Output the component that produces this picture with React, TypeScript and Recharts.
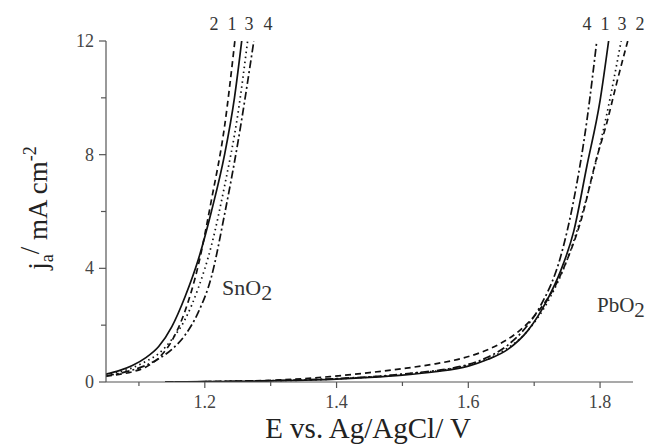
import { Line, LineChart, XAxis, YAxis } from "recharts";

// SnO2 anode, curves 1-4
const snE1 = [1.05, 1.07, 1.09, 1.11, 1.13, 1.15, 1.17, 1.19, 1.21, 1.23, 1.245, 1.256];
const snJ1 = [0.28, 0.4, 0.58, 0.85, 1.25, 1.95, 3.0, 4.3, 6.0, 8.0, 10.0, 12];
const snE2 = [1.05, 1.07, 1.09, 1.11, 1.13, 1.15, 1.17, 1.19, 1.21, 1.23, 1.2456];
const snJ2 = [0.2, 0.27, 0.36, 0.52, 0.85, 1.45, 2.5, 4.1, 6.4, 9.0, 12];
const snE3 = [1.05, 1.07, 1.09, 1.11, 1.13, 1.15, 1.17, 1.19, 1.21, 1.23, 1.25, 1.265];
const snJ3 = [0.25, 0.35, 0.5, 0.72, 1.0, 1.5, 2.2, 3.3, 4.8, 6.9, 9.4, 12];
const snE4 = [1.05, 1.07, 1.09, 1.11, 1.13, 1.15, 1.17, 1.19, 1.21, 1.23, 1.25, 1.2744];
const snJ4 = [0.22, 0.3, 0.42, 0.58, 0.82, 1.15, 1.65, 2.45, 3.7, 5.9, 8.4, 12];

// PbO2 anode, curves 1-4
const pbE1 = [1.14, 1.2, 1.3, 1.4, 1.45, 1.5, 1.55, 1.6, 1.63, 1.66, 1.69, 1.72, 1.74, 1.76, 1.78, 1.8, 1.813];
const pbJ1 = [0, 0.01, 0.04, 0.1, 0.16, 0.24, 0.36, 0.56, 0.8, 1.15, 1.8, 2.9, 3.9, 5.3, 7.6, 9.9, 12];
const pbE2 = [1.14, 1.2, 1.25, 1.3, 1.39, 1.45, 1.5, 1.55, 1.59, 1.62, 1.65, 1.68, 1.71, 1.73, 1.75, 1.77, 1.795, 1.81, 1.825, 1.842];
const pbJ2 = [0, 0.01, 0.03, 0.06, 0.19, 0.33, 0.47, 0.64, 0.83, 1.05, 1.37, 1.85, 2.6, 3.3, 4.3, 5.6, 7.9, 9.1, 10.5, 12];
const pbE3 = [1.14, 1.2, 1.3, 1.4, 1.5, 1.6, 1.65, 1.69, 1.72, 1.75, 1.77, 1.79, 1.81, 1.832];
const pbJ3 = [0, 0.01, 0.04, 0.11, 0.27, 0.6, 1.05, 1.8, 2.8, 4.3, 5.7, 7.4, 9.4, 12];
const pbE4 = [1.14, 1.2, 1.3, 1.4, 1.5, 1.6, 1.63, 1.66, 1.69, 1.71, 1.74, 1.76, 1.78, 1.795];
const pbJ4 = [0, 0.01, 0.05, 0.12, 0.28, 0.62, 0.88, 1.3, 2.0, 2.7, 4.4, 6.4, 9.2, 12];

const xTicks = [1.1, 1.2, 1.3, 1.4, 1.5, 1.6, 1.7, 1.8];
const xMajor = [1.2, 1.4, 1.6, 1.8];
const yTicks = [0, 2, 4, 6, 8, 10, 12];
const yMajor = [0, 4, 8, 12];

const snLabels = ["2", "1", "3", "4"];
const pbLabels = ["4", "1", "3", "2"];

const serif = { fontFamily: '"Liberation Serif", "Times New Roman", Times, serif' };
const axisColor = "#555";
const ink = "#111";

const toPoints = (es: number[], js: number[]) => es.map((E, i) => ({ E, j: js[i] }));

const series = [
  { key: "sn1", data: toPoints(snE1, snJ1), dash: undefined },
  { key: "sn2", data: toPoints(snE2, snJ2), dash: "6 4" },
  { key: "sn3", data: toPoints(snE3, snJ3), dash: "1.5 3.5" },
  { key: "sn4", data: toPoints(snE4, snJ4), dash: "8 3 2 3" },
  { key: "pb1", data: toPoints(pbE1, pbJ1), dash: undefined },
  { key: "pb2", data: toPoints(pbE2, pbJ2), dash: "6 4" },
  { key: "pb3", data: toPoints(pbE3, pbJ3), dash: "1.5 3.5" },
  { key: "pb4", data: toPoints(pbE4, pbJ4), dash: "8 3 2 3" }
];

const isIn = (list: number[], v: number) => list.some((m) => Math.abs(m - v) < 1e-6);

function XTick({ x, y, payload }: any) {
  const major = isIn(xMajor, payload.value);
  return (
    <g>
      <line x1={x} x2={x} y1={y} y2={y + (major ? 6 : 4)} stroke={axisColor} strokeWidth={1.2} />
      {major && (
        <text x={x} y={y + 26} textAnchor="middle" fontSize={18} fill="#444" style={serif}>
          {payload.value.toFixed(1)}
        </text>
      )}
    </g>
  );
}

function YTick({ x, y, payload }: any) {
  const major = isIn(yMajor, payload.value);
  return (
    <g>
      <line x1={x} x2={x - (major ? 7 : 5)} y1={y} y2={y} stroke={axisColor} strokeWidth={1.2} />
      {major && (
        <text x={x - 12} y={y + 6} textAnchor="end" fontSize={18} fill="#444" style={serif}>
          {payload.value}
        </text>
      )}
    </g>
  );
}

export default function App() {
  const snX = [214, 232, 249, 268];
  const pbX = [587, 605, 622, 640];
  return (
    <div style={{ position: "absolute", left: 0, top: 0, width: 652, height: 448, background: "#fff" }}>
      <LineChart width={652} height={448} margin={{ top: 41, right: 19, bottom: 0, left: 0 }}>
        <XAxis
          dataKey="E"
          type="number"
          domain={[1.05, 1.85]}
          ticks={xTicks}
          allowDataOverflow
          height={66}
          stroke={axisColor}
          strokeWidth={1.2}
          tickSize={0}
          tickMargin={0}
          tickLine={false}
          tick={<XTick />}
        />
        <YAxis
          dataKey="j"
          type="number"
          domain={[0, 12]}
          ticks={yTicks}
          allowDataOverflow
          width={106}
          stroke={axisColor}
          strokeWidth={1.2}
          tickSize={0}
          tickMargin={0}
          tickLine={false}
          tick={<YTick />}
        />
        {series.map((s) => (
          <Line
            key={s.key}
            data={s.data}
            dataKey="j"
            type="monotone"
            stroke={ink}
            strokeWidth={1.7}
            strokeDasharray={s.dash}
            dot={false}
            activeDot={false}
            isAnimationActive={false}
          />
        ))}
        <g style={serif} fill="#333">
          {snLabels.map((t, i) => (
            <text key={"sl" + i} x={snX[i]} y={30} textAnchor="middle" fontSize={18}>
              {t}
            </text>
          ))}
          {pbLabels.map((t, i) => (
            <text key={"pl" + i} x={pbX[i]} y={30} textAnchor="middle" fontSize={18}>
              {t}
            </text>
          ))}
          <text x={222} y={295} fontSize={22}>
            SnO<tspan dy={5}>2</tspan>
          </text>
          <text x={597} y={312} fontSize={21}>
            PbO<tspan dy={5}>2</tspan>
          </text>
          <text x={368} y={438} textAnchor="middle" fontSize={29} fill="#222">
            E vs. Ag/AgCl/ V
          </text>
          <text x={47} y={208} transform="rotate(-90, 47, 208)" textAnchor="middle" fontSize={27} fill="#222">
            j<tspan dy={6} fontSize={18}>a</tspan>
            <tspan dy={-14}>/</tspan>
            <tspan dy={8}> mA cm</tspan>
            <tspan dy={-11} fontSize={18}>-2</tspan>
          </text>
        </g>
      </LineChart>
    </div>
  );
}
